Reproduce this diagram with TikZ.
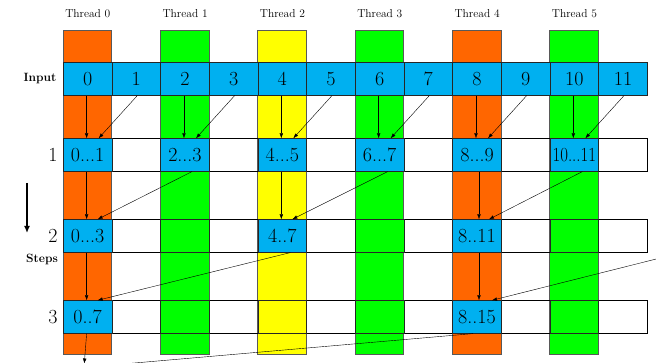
\documentclass[tikz,border=0pt]{standalone}
\usetikzlibrary{arrows.meta}
\definecolor{cOr}{RGB}{255,102,0}
\definecolor{cGr}{RGB}{0,255,0}
\definecolor{cYe}{RGB}{255,255,0}
\definecolor{cBl}{RGB}{0,176,240}
\begin{document}
\begin{tikzpicture}[x=1pt,y=-1pt,
  cell/.style={draw=black!85, line width=0.6pt, minimum width=48.67pt, minimum height=32.7pt,
    inner sep=0pt, anchor=north west, font=\fontsize{20}{20}\selectfont},
  colbar/.style={draw=black!65, line width=0.6pt},
  rowbox/.style={draw=black, line width=0.6pt},
  arr/.style={-{Latex[length=5pt,width=3.6pt]}, line width=0.4pt},
  ln/.style={line width=0.4pt},
  thr/.style={font=\fontsize{11.5}{13}\selectfont},
  lbl/.style={font=\fontsize{12}{14}\selectfont\bfseries},
  stepnum/.style={font=\fontsize{20}{20}\selectfont},
  bigarr/.style={line width=1.5pt, -{Latex[length=7pt,width=6pt]}}]
\clip (0,0) rectangle (656,363);
\useasboundingbox (0,0) rectangle (656,363);
% thread columns
\foreach \k/\c in {0/cOr,1/cGr,2/cYe,3/cGr,4/cOr,5/cGr}{
  \filldraw[fill=\c, colbar] ({63+2*\k*48.67},30.3) rectangle ++(48.67,324);
  \node[thr] (t\k) at ({87.8+\k*97.33},14) {Thread \k};
}
% row frames
\foreach \y in {138.3,219.3,300.3}{
  \draw[rowbox] (63,\y) rectangle (647,{\y+32.7});
}
% input cells
\foreach \i in {0,...,11}{
  \node[cell, fill=cBl] (in\i) at ({63+\i*48.67},62.3) {\i};
}
% row 1
\node[cell, fill=cBl] (ra0) at ({63+0*48.67},138.3) {0...1};
\node[cell, fill=cBl] (ra1) at ({63+2*48.67},138.3) {2...3};
\node[cell, fill=cBl] (ra2) at ({63+4*48.67},138.3) {4...5};
\node[cell, fill=cBl] (ra3) at ({63+6*48.67},138.3) {6...7};
\node[cell, fill=cBl] (ra4) at ({63+8*48.67},138.3) {8...9};
\node[cell, fill=cBl] (ra5) at ({63+10*48.67},138.3) {\scalebox{0.84}[1]{10...11}};
% row 2
\node[cell, fill=cBl] (rb0) at ({63+0*48.67},219.3) {0...3};
\node[cell, fill=cGr] (rb1) at ({63+2*48.67},219.3) {};
\node[cell, fill=cBl] (rb2) at ({63+4*48.67},219.3) {4..7};
\node[cell, fill=cGr] (rb3) at ({63+6*48.67},219.3) {};
\node[cell, fill=cBl] (rb4) at ({63+8*48.67},219.3) {8..11};
\node[cell, fill=cGr] (rb5) at ({63+10*48.67},219.3) {};
% row 3
\node[cell, fill=cBl] (rc0) at ({63+0*48.67},300.3) {0..7};
\node[cell, fill=cGr] (rc1) at ({63+2*48.67},300.3) {};
\node[cell, fill=cYe] (rc2) at ({63+4*48.67},300.3) {};
\node[cell, fill=cGr] (rc3) at ({63+6*48.67},300.3) {};
\node[cell, fill=cBl] (rc4) at ({63+8*48.67},300.3) {8..15};
\node[cell, fill=cGr] (rc5) at ({63+10*48.67},300.3) {};
% labels
\node[lbl] (inlab) at (40,79) {Input};
\node[lbl] (steplab) at (42,259) {Steps};
\node[stepnum] (s1) at (53,155) {1};
\node[stepnum] (s2) at (53,236) {2};
\node[stepnum] (s3) at (53,317) {3};
\coordinate (ba) at (27,183);
\coordinate (bb) at (27,233);
\draw[bigarr] (ba) -- (bb);
% step 1 arrows
\foreach \k in {0,...,5}{
  \pgfmathtruncatemacro{\e}{2*\k}
  \pgfmathtruncatemacro{\o}{2*\k+1}
  \draw[arr] ([xshift=-1pt]in\e.south) -- ([xshift=-1pt]ra\k.north);
  \draw[arr] ([xshift=1pt]in\o.south) -- ([xshift=11pt]ra\k.north);
}
% step 2 arrows
\draw[arr] ([xshift=-1pt]ra0.south) -- ([xshift=-1pt]rb0.north);
\draw[arr] ([xshift=7pt]ra1.south) -- ([xshift=10pt]rb0.north);
\draw[arr] ([xshift=-1pt]ra2.south) -- ([xshift=-1pt]rb2.north);
\draw[arr] ([xshift=8pt]ra3.south) -- ([xshift=10pt]rb2.north);
\draw[arr] ([xshift=2pt]ra4.south) -- ([xshift=2pt]rb4.north);
\draw[arr] ([xshift=8pt]ra5.south) -- ([xshift=12pt]rb4.north);
% step 3 arrows
\draw[arr] ([xshift=-1pt]rb0.south) -- ([xshift=-1pt]rc0.north);
\draw[arr] ([xshift=8pt]rb2.south) -- ([xshift=10pt]rc0.north);
\draw[arr] ([xshift=2pt]rb4.south) -- ([xshift=2pt]rc4.north);
\coordinate (offr) at (700,248);
\draw[arr] (offr) -- ([xshift=15pt]rc4.north);
% outgoing
\coordinate (offd) at (84.3,363.5);
\draw[arr] ([xshift=-1pt]rc0.south) -- (offd);
\coordinate (offl) at (100,366);
\draw[ln] ([xshift=-4pt]rc4.south) -- (offl);
\end{tikzpicture}
\end{document}
